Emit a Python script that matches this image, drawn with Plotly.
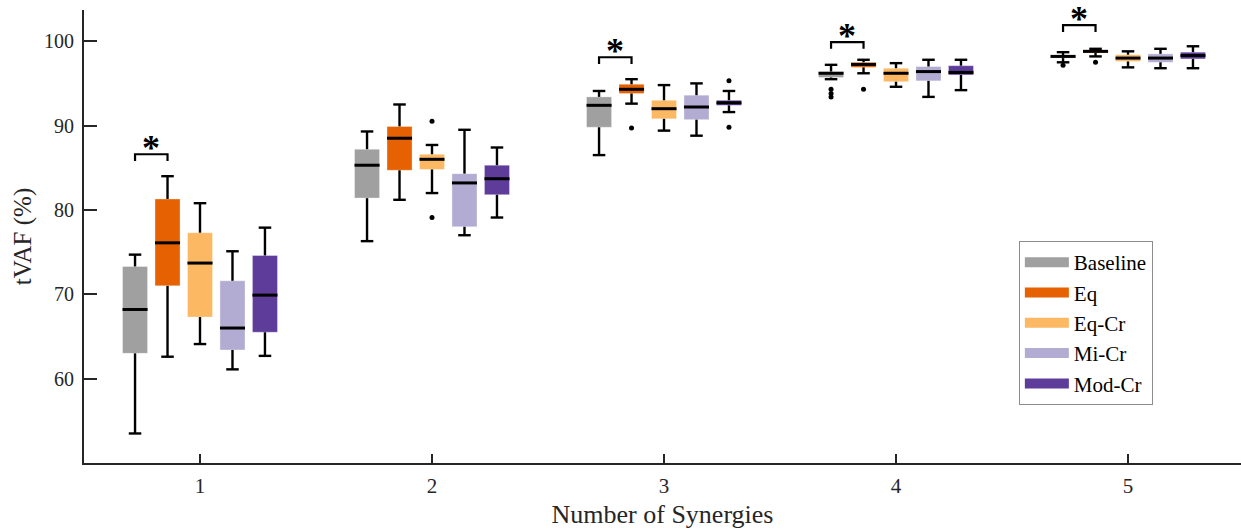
import plotly.graph_objects as go

# Number of synergies on the x axis
groups = [1, 2, 3, 4, 5]
tick_labels = ["1", "2", "3", "4", "5"]

series_names = ["Baseline", "Eq", "Eq-Cr", "Mi-Cr", "Mod-Cr"]
series_colors = ["#a0a0a0", "#e66101", "#fdb863", "#b2abd2", "#5e3c99"]

# Box statistics per condition (one value per synergy count)
baseline_lower = [53.5, 76.3, 86.5, 95.5, 97.5]
baseline_q1 = [63.0, 81.4, 89.8, 95.7, 98.0]
baseline_med = [68.2, 85.3, 92.4, 96.2, 98.2]
baseline_q3 = [73.3, 87.2, 93.4, 96.4, 98.35]
baseline_upper = [74.7, 89.3, 94.1, 97.2, 98.7]
baseline_out = [[], [], [], [94.3, 93.8, 93.4], [97.15]]

eq_lower = [62.6, 81.2, 92.6, 96.2, 98.2]
eq_q1 = [71.0, 84.7, 93.8, 96.9, 98.6]
eq_med = [76.1, 88.5, 94.3, 97.25, 98.8]
eq_q3 = [81.3, 89.9, 94.9, 97.5, 98.9]
eq_upper = [84.0, 92.5, 95.5, 97.8, 99.1]
eq_out = [[], [], [89.7], [94.3], [97.5]]

eqcr_lower = [64.1, 82.0, 89.4, 94.6, 96.9]
eqcr_q1 = [67.3, 84.8, 90.8, 95.2, 97.6]
eqcr_med = [73.7, 86.0, 92.0, 96.2, 98.0]
eqcr_q3 = [77.3, 86.6, 93.0, 96.8, 98.4]
eqcr_upper = [80.8, 87.7, 94.8, 97.4, 98.8]
eqcr_out = [[], [90.5, 79.1], [], [], []]

micr_lower = [61.1, 77.0, 88.8, 93.4, 96.8]
micr_q1 = [63.4, 78.0, 90.7, 95.3, 97.5]
micr_med = [66.0, 83.2, 92.2, 96.4, 98.0]
micr_q3 = [71.6, 84.3, 93.6, 97.0, 98.5]
micr_upper = [75.1, 89.5, 95.0, 97.8, 99.1]
micr_out = [[], [], [], [], []]

modcr_lower = [62.7, 79.1, 91.6, 94.2, 96.8]
modcr_q1 = [65.5, 81.8, 92.4, 96.0, 97.9]
modcr_med = [69.9, 83.7, 92.7, 96.3, 98.3]
modcr_q3 = [74.6, 85.3, 93.0, 97.1, 98.7]
modcr_upper = [77.9, 87.4, 94.1, 97.8, 99.4]
modcr_out = [[], [], [95.3, 89.8], [], []]

# Significant Baseline vs Eq comparisons: group and bracket height
sig_groups = [1, 3, 4, 5]
sig_heights = [86.6, 98.1, 99.9, 101.9]

stats = [
    (baseline_lower, baseline_q1, baseline_med, baseline_q3, baseline_upper, baseline_out),
    (eq_lower, eq_q1, eq_med, eq_q3, eq_upper, eq_out),
    (eqcr_lower, eqcr_q1, eqcr_med, eqcr_q3, eqcr_upper, eqcr_out),
    (micr_lower, micr_q1, micr_med, micr_q3, micr_upper, micr_out),
    (modcr_lower, modcr_q1, modcr_med, modcr_q3, modcr_upper, modcr_out),
]

offsets = [-0.28, -0.14, 0.0, 0.14, 0.28]
box_w = 0.108
cap_w = box_w / 2
ink = "#000000"
axis_col = "#262626"
font_family = "Liberation Serif, Times New Roman, serif"

fig = go.Figure()

for name, color, off, (lo, q1, med, q3, up, outs) in zip(series_names, series_colors, offsets, stats):
    xs = [g + off for g in groups]
    # interquartile box
    fig.add_trace(go.Bar(
        x=xs, base=q1, y=[b - a for a, b in zip(q1, q3)], width=box_w,
        marker=dict(color=color, line=dict(width=0.6, color="rgba(255,255,255,0.6)")),
        showlegend=False, hoverinfo="skip", name=name,
    ))
    # whiskers and caps
    wx, wy = [], []
    for x, a, b, c, d in zip(xs, lo, q1, q3, up):
        wx += [x, x, None, x, x, None, x - cap_w / 2, x + cap_w / 2, None, x - cap_w / 2, x + cap_w / 2, None]
        wy += [a, b, None, c, d, None, a, a, None, d, d, None]
    fig.add_trace(go.Scatter(x=wx, y=wy, mode="lines", line=dict(color=ink, width=2.4),
                             showlegend=False, hoverinfo="skip"))
    # medians
    mx, my = [], []
    for x, m in zip(xs, med):
        mx += [x - box_w / 2, x + box_w / 2, None]
        my += [m, m, None]
    fig.add_trace(go.Scatter(x=mx, y=my, mode="lines", line=dict(color=ink, width=3),
                             showlegend=False, hoverinfo="skip"))
    # outliers
    ox, oy = [], []
    for x, vals in zip(xs, outs):
        for v in vals:
            ox.append(x)
            oy.append(v)
    if ox:
        fig.add_trace(go.Scatter(x=ox, y=oy, mode="markers", marker=dict(color=ink, size=5),
                                 showlegend=False, hoverinfo="skip"))

# legend entries as wide swatches
for name, color in zip(series_names, series_colors):
    fig.add_trace(go.Scatter(x=[None], y=[None], mode="lines", name=name,
                             line=dict(color=color, width=20)))

# significance brackets
bx, by = [], []
for g, h in zip(sig_groups, sig_heights):
    x0, x1 = g + offsets[0], g + offsets[1]
    bx += [x0, x0, x1, x1, None]
    by += [h - 0.8, h, h, h - 0.8, None]
fig.add_trace(go.Scatter(x=bx, y=by, mode="lines", line=dict(color=ink, width=2.2),
                         showlegend=False, hoverinfo="skip"))
for g, h in zip(sig_groups, sig_heights):
    fig.add_annotation(x=g + (offsets[0] + offsets[1]) / 2, y=h, text="<b>*</b>",
                       showarrow=False, yanchor="bottom", yshift=-16,
                       font=dict(family=font_family, size=36, color=ink))

fig.update_layout(
    width=1241, height=529,
    margin=dict(l=84, r=0, t=9.5, b=66),
    plot_bgcolor="white", paper_bgcolor="white",
    barmode="overlay",
    font=dict(family=font_family, color=axis_col, size=20),
    showlegend=True,
    legend=dict(
        x=0.808, y=0.49, xanchor="left", yanchor="top",
        bordercolor="#8c8c8c", borderwidth=1, bgcolor="white",
        font=dict(family=font_family, size=21, color=ink),
        itemwidth=44, tracegroupgap=0,
    ),
    xaxis=dict(
        range=[0.5, 5.487], tickmode="array", tickvals=groups, ticktext=tick_labels,
        showline=True, linecolor=axis_col, linewidth=2.2, ticks="inside", ticklen=9,
        tickwidth=2, tickcolor=axis_col, showgrid=False, zeroline=False,
        title=dict(text="Number of Synergies", font=dict(size=26), standoff=8),
        tickfont=dict(size=21), ticklabelstandoff=3,
    ),
    yaxis=dict(
        range=[50, 103.7], tickvals=[60, 70, 80, 90, 100],
        showline=True, linecolor=axis_col, linewidth=2.2, ticks="inside", ticklen=13,
        tickwidth=2, tickcolor=axis_col, showgrid=False, zeroline=False,
        title=dict(text="tVAF (%)", font=dict(size=25), standoff=5),
        tickfont=dict(size=20), ticklabelstandoff=4,
    ),
)

fig.write_html("out.html")
